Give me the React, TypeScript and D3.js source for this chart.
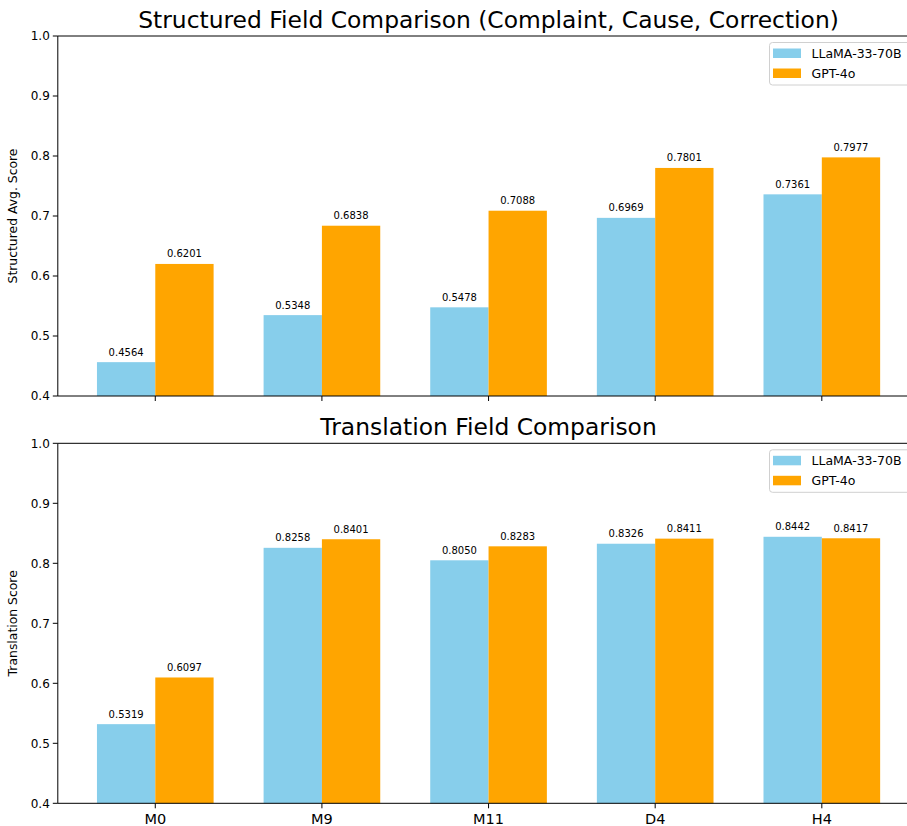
import React from "react";
import * as d3 from "d3";

const categories = ["M0", "M9", "M11", "D4", "H4"];
const seriesNames = ["LLaMA-33-70B", "GPT-4o"];
const structuredLlama = [0.4564, 0.5348, 0.5478, 0.6969, 0.7361];
const structuredGpt = [0.6201, 0.6838, 0.7088, 0.7801, 0.7977];
const translationLlama = [0.5319, 0.8258, 0.805, 0.8326, 0.8442];
const translationGpt = [0.6097, 0.8401, 0.8283, 0.8411, 0.8417];
const yTicks = [0.4, 0.5, 0.6, 0.7, 0.8, 0.9, 1.0];
const colors = ["#87CEEB", "#FFA500"];

const W = 907;
const H = 826;
const FONT = "DejaVu Sans, sans-serif";

const x = d3.scaleLinear().domain([-0.585, 4.585]).range([57.8, 919.3]);
const barW = x(0.35) - x(0);

type PanelProps = {
  top: number;
  bottom: number;
  title: string;
  ylabel: string;
  a: number[];
  b: number[];
  showXLabels: boolean;
};

function Panel({ top, bottom, title, ylabel, a, b, showXLabels }: PanelProps) {
  const y = d3.scaleLinear().domain([0.4, 1.0]).range([bottom, top]);
  const series = [a, b];
  const left = x.range()[0];
  const right = x.range()[1];
  return (
    <g>
      {series.map((vals, si) =>
        vals.map((v, i) => {
          const x0 = si === 0 ? x(i) - barW : x(i);
          return (
            <rect
              key={`b${si}-${i}`}
              x={x0}
              y={y(v)}
              width={barW}
              height={y(0.4) - y(v)}
              fill={colors[si]}
            />
          );
        })
      )}
      {series.map((vals, si) =>
        vals.map((v, i) => {
          const cx = si === 0 ? x(i) - barW / 2 : x(i) + barW / 2;
          return (
            <text
              key={`t${si}-${i}`}
              x={cx}
              y={y(v) - 6.5}
              textAnchor="middle"
              fontSize={10}
              fontFamily={FONT}
              fill="#000"
            >
              {v.toFixed(4)}
            </text>
          );
        })
      )}
      {/* spines */}
      <line x1={left} x2={left} y1={top} y2={bottom} stroke="#000" strokeWidth={1} />
      <line x1={left} x2={right} y1={bottom} y2={bottom} stroke="#000" strokeWidth={1} />
      <line x1={left} x2={right} y1={top} y2={top} stroke="#000" strokeWidth={1} />
      <line x1={right} x2={right} y1={top} y2={bottom} stroke="#000" strokeWidth={1} />
      {/* y ticks */}
      {yTicks.map((t) => (
        <g key={`y${t}`}>
          <line x1={left - 5} x2={left} y1={y(t)} y2={y(t)} stroke="#000" strokeWidth={1} />
          <text
            x={left - 8}
            y={y(t)}
            dy="0.36em"
            textAnchor="end"
            fontSize={12}
            fontFamily={FONT}
            fill="#000"
          >
            {t.toFixed(1)}
          </text>
        </g>
      ))}
      {/* x ticks */}
      {categories.map((c, i) => (
        <g key={`x${c}`}>
          <line x1={x(i)} x2={x(i)} y1={bottom} y2={bottom + 5} stroke="#000" strokeWidth={1} />
          {showXLabels && (
            <text
              x={x(i)}
              y={bottom + 21}
              textAnchor="middle"
              fontSize={14.5}
              fontFamily={FONT}
              fill="#000"
            >
              {c}
            </text>
          )}
        </g>
      ))}
      <text
        x={17}
        y={(top + bottom) / 2}
        transform={`rotate(-90 17 ${(top + bottom) / 2})`}
        textAnchor="middle"
        fontSize={12.4}
        fontFamily={FONT}
        fill="#000"
      >
        {ylabel}
      </text>
      <text
        x={(left + right) / 2}
        y={top - 8}
        textAnchor="middle"
        fontSize={23.4}
        fontFamily={FONT}
        fill="#000"
      >
        {title}
      </text>
      {/* legend */}
      <g transform={`translate(769.5, ${top + 6.5})`}>
        <rect
          x={0}
          y={0}
          width={150}
          height={42.5}
          rx={3}
          fill="#fff"
          fillOpacity={0.8}
          stroke="#d0d0d0"
          strokeWidth={1}
        />
        {seriesNames.map((n, i) => (
          <g key={n} transform={`translate(0, ${i * 20})`}>
            <rect x={3.5} y={6} width={28} height={9.5} fill={colors[i]} />
            <text x={42} y={15.5} fontSize={12.5} fontFamily={FONT} fill="#000">
              {n}
            </text>
          </g>
        ))}
      </g>
    </g>
  );
}

export default function App() {
  return (
    <svg
      width={W}
      height={H}
      style={{ position: "absolute", left: 0, top: 0, background: "#fff" }}
    >
      <rect x={0} y={0} width={W} height={H} fill="#fff" />
      <Panel
        top={36}
        bottom={396}
        title="Structured Field Comparison (Complaint, Cause, Correction)"
        ylabel="Structured Avg. Score"
        a={structuredLlama}
        b={structuredGpt}
        showXLabels={false}
      />
      <Panel
        top={443.3}
        bottom={803.3}
        title="Translation Field Comparison"
        ylabel="Translation Score"
        a={translationLlama}
        b={translationGpt}
        showXLabels={true}
      />
    </svg>
  );
}
